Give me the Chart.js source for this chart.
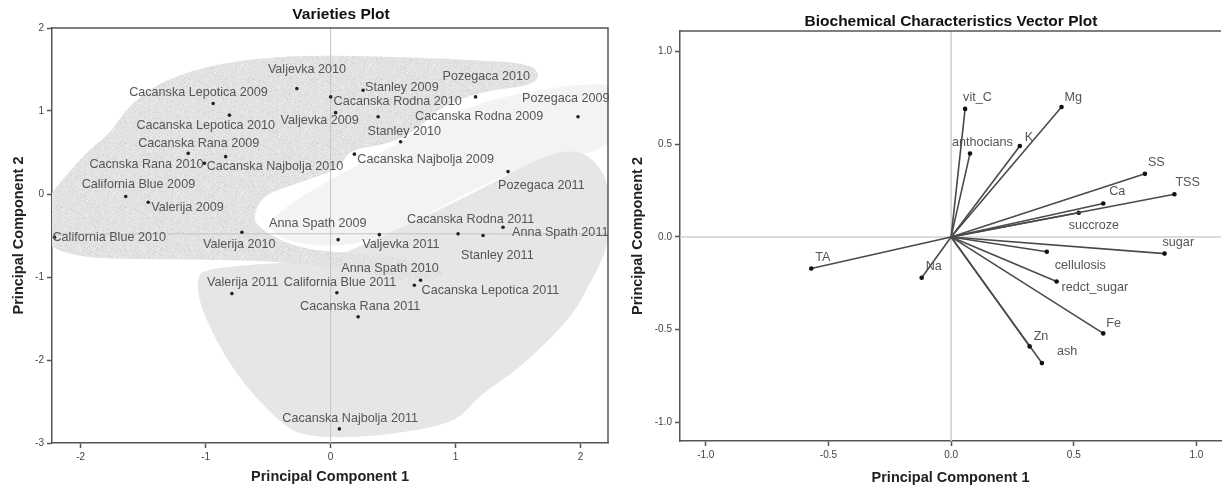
<!DOCTYPE html>
<html>
<head>
<meta charset="utf-8">
<script src="https://cdn.jsdelivr.net/npm/chart.js@4.4.0/dist/chart.umd.min.js"></script>
<style>
  body { margin: 0; background: #fff; width: 1225px; height: 491px; overflow: hidden; position: relative; }
  #left { position: absolute; left: 0; top: 0; width: 620px; height: 491px; }
  #right { position: absolute; left: 620px; top: 0; width: 605px; height: 491px; }
</style>
</head>
<body>
<div id="left"><canvas id="varieties" width="620" height="491"></canvas></div>
<div id="right"><canvas id="vectors" width="605" height="491"></canvas></div>
<script>
// ---- varieties (scores) ----
var varietyNames = [
  'Valjevka 2010', 'Cacanska Lepotica 2009', 'Cacanska Lepotica 2010', 'Cacanska Rana 2009',
  'Cacnska Rana 2010', 'Cacanska Najbolja 2010', 'California Blue 2009', 'Valerija 2009',
  'California Blue 2010', 'Valerija 2010', 'Anna Spath 2009', 'Stanley 2009',
  'Cacanska Rodna 2010', 'Valjevka 2009', 'Cacanska Rodna 2009', 'Stanley 2010',
  'Pozegaca 2010', 'Pozegaca 2009', 'Cacanska Najbolja 2009', 'Pozegaca 2011',
  'Cacanska Rodna 2011', 'Anna Spath 2011', 'Valjevka 2011', 'Stanley 2011',
  'Anna Spath 2010', 'California Blue 2011', 'Cacanska Lepotica 2011', 'Valerija 2011',
  'Cacanska Rana 2011', 'Cacanska Najbolja 2011'
];
var pc1 = [-0.27, -0.94, -0.81, -1.14, -1.01, -0.84, -1.64, -1.46, -2.21, -0.71, 0.06, 0.26,
  0.00, 0.04, 0.38, 0.56, 1.16, 1.98, 0.19, 1.42, 1.02, 1.38, 0.39, 1.22, 0.67, 0.05, 0.72,
  -0.79, 0.22, 0.07];
var pc2 = [1.27, 1.09, 0.95, 0.49, 0.37, 0.45, -0.03, -0.10, -0.52, -0.46, -0.55, 1.25,
  1.17, 0.98, 0.93, 0.63, 1.17, 0.93, 0.48, 0.27, -0.48, -0.40, -0.49, -0.50, -1.10, -1.19,
  -1.04, -1.20, -1.48, -2.83];
// label placement relative to each point (pixels)
var varietyLabelOffsets = [[-29, -19], [-84, -11], [-93, 10], [-50, -10], [-115, 1], [-19, 10],
  [-44, -12], [3, 5], [-2, 0], [-39, 12], [-69, -16], [2, -3], [3, 5], [-55, 8], [37, 0],
  [-33, -10], [-33, -20], [-56, -18], [3, 5], [-10, 14], [-51, -14], [9, 5], [-17, 10],
  [-22, 20], [-73, -17], [-53, -10], [1, 10], [-25, -11], [-58, -10], [-57, -10]];

// group outlines (PC1, PC2)
var hullPale = [[-0.53, -0.40], [-0.37, -0.16], [-0.01, 0.17], [0.39, 0.48], [0.79, 0.84],
  [1.19, 1.10], [1.67, 1.26], [2.07, 1.33], [2.3, 1.31], [2.3, 0.54], [1.67, 0.40], [1.2, 0.1],
  [0.39, -0.55], [0.0, -0.64], [-0.33, -0.58]];
var hullGray = [[1.95, 0.54], [2.11, 0.42], [2.24, 0.09], [2.23, -0.63], [2.07, -1.09], [1.93, -1.48],
  [1.53, -2.08], [1.18, -2.44], [1.05, -2.68], [0.86, -2.80], [0.33, -2.93], [-0.17, -2.93],
  [-0.38, -2.80], [-0.78, -2.15], [-1.05, -1.36], [-1.07, -0.99], [-0.99, -0.91], [-0.73, -0.86],
  [0.0, -0.79], [0.39, -0.52], [0.79, -0.25], [1.27, 0.11], [1.67, 0.44]];
var hullSpeckled = [[-2.3, -0.77], [-2.3, -0.13], [-2.15, 0.17], [-1.93, 0.54], [-1.77, 0.72],
  [-1.61, 1.08], [-1.33, 1.38], [-0.89, 1.58], [-0.33, 1.67], [0.39, 1.66], [1.11, 1.62],
  [1.59, 1.57], [1.68, 1.44], [1.61, 1.31], [1.19, 1.23], [0.87, 1.04], [0.71, 0.80],
  [0.47, 0.60], [0.15, 0.54], [0.07, 0.30], [-0.25, 0.14], [-0.53, -0.01], [-0.61, -0.21],
  [-0.60, -0.40], [-0.25, -0.67], [0.30, -0.72], [0.71, -0.81], [0.91, -0.91], [0.87, -1.05],
  [0.55, -1.05], [0.07, -0.89], [-0.41, -0.81], [-1.05, -0.79]];

// ---- biochemical characteristics (loadings) ----
var variableNames = ['vit_C', 'anthocians', 'K', 'Mg', 'SS', 'TSS', 'Ca', 'succroze', 'sugar',
  'cellulosis', 'redct_sugar', 'Fe', 'Zn', 'ash', 'Na', 'TA'];
var load1 = [0.057, 0.077, 0.28, 0.45, 0.79, 0.91, 0.62, 0.52, 0.87, 0.39, 0.43, 0.62, 0.32, 0.37, -0.12, -0.57];
var load2 = [0.69, 0.45, 0.49, 0.70, 0.34, 0.23, 0.18, 0.13, -0.09, -0.08, -0.24, -0.52, -0.59, -0.68, -0.22, -0.17];
var variableLabelOffsets = [[-2, -11], [-18, -11], [5, -9], [3, -10], [3, -11], [1, -12], [6, -12],
  [-10, 13], [-2, -11], [8, 14], [5, 6], [3, -10], [4, -10], [15, -12], [4, -11], [4, -11]];

var font = 'Arial, "Liberation Sans", sans-serif';

function speckle(ctx) {
  var c = document.createElement('canvas');
  c.width = 64; c.height = 64;
  var g = c.getContext('2d');
  g.fillStyle = '#e2e2e2';
  g.fillRect(0, 0, 64, 64);
  for (var i = 0; i < 64 * 64; i++) {
    var h = Math.sin(i * 12.9898 + 78.233) * 43758.5453;
    h = h - Math.floor(h);
    if (h < 0.10) { g.fillStyle = '#d4d4d4'; g.fillRect(i % 64, Math.floor(i / 64), 1, 1); }
    else if (h > 0.90) { g.fillStyle = '#ececec'; g.fillRect(i % 64, Math.floor(i / 64), 1, 1); }
  }
  return ctx.createPattern(c, 'repeat');
}

function drawBlob(chart, pts, fill) {
  var xs = chart.scales.x, ys = chart.scales.y, ctx = chart.ctx;
  var p = pts.map(function(d) { return [xs.getPixelForValue(d[0]), ys.getPixelForValue(d[1])]; });
  var n = p.length;
  function mid(a, b) { return [(a[0] + b[0]) / 2, (a[1] + b[1]) / 2]; }
  var m0 = mid(p[n - 1], p[0]);
  ctx.beginPath();
  ctx.moveTo(m0[0], m0[1]);
  for (var i = 0; i < n; i++) {
    var m = mid(p[i], p[(i + 1) % n]);
    ctx.quadraticCurveTo(p[i][0], p[i][1], m[0], m[1]);
  }
  ctx.closePath();
  ctx.fillStyle = fill;
  ctx.fill();
}

function fixedTicks(values) {
  return function(scale) { scale.ticks = values.map(function(v) { return { value: v }; }); };
}

function axis(min, max, tickValues, size, isX, titleText, titlePad, fmt) {
  return {
    min: min, max: max,
    afterBuildTicks: fixedTicks(tickValues),
    afterFit: function(s) { if (isX) s.height = size; else s.width = size; },
    grid: { drawOnChartArea: false, tickLength: 5, tickColor: '#555', tickWidth: 1.5 },
    border: { color: '#555', width: 1.5 },
    ticks: { font: { family: font, size: 10 }, color: '#444', padding: 3, maxRotation: 0,
      callback: fmt },
    title: { display: true, text: titleText, color: '#222',
      font: { family: font, size: 14.5, weight: 'bold' }, padding: titlePad }
  };
}

var refLines = {
  id: 'refLines',
  beforeDatasetsDraw: function(chart, args, opts) {
    var ctx = chart.ctx, a = chart.chartArea;
    var xs = chart.scales.x, ys = chart.scales.y;
    ctx.save();
    ctx.beginPath();
    ctx.rect(a.left, a.top, a.right - a.left, a.bottom - a.top);
    ctx.clip();
    (opts.blobs || []).forEach(function(b) { drawBlob(chart, b[0], b[1] === 'speckle' ? speckle(ctx) : b[1]); });
    ctx.strokeStyle = opts.color;
    ctx.lineWidth = opts.width;
    var x0 = xs.getPixelForValue(0), y0 = ys.getPixelForValue(opts.hLine);
    ctx.beginPath();
    ctx.moveTo(x0, a.top); ctx.lineTo(x0, a.bottom);
    ctx.moveTo(a.left, y0); ctx.lineTo(a.right, y0);
    ctx.stroke();
    ctx.restore();
  }
};

var textLayer = {
  id: 'textLayer',
  afterDatasetsDraw: function(chart, args, opts) {
    var ctx = chart.ctx, a = chart.chartArea;
    ctx.save();
    ctx.strokeStyle = '#555';
    ctx.lineWidth = 1.5;
    ctx.beginPath();
    ctx.moveTo(a.left, a.top); ctx.lineTo(a.right, a.top);
    if (opts.rightBorder) ctx.lineTo(a.right, a.bottom);
    ctx.stroke();
    ctx.font = '12.6px ' + font;
    ctx.fillStyle = '#555';
    ctx.textBaseline = 'middle';
    ctx.textAlign = 'left';
    opts.labels(chart).forEach(function(l) { ctx.fillText(l.text, l.x, l.y); });
    ctx.font = 'bold 15.5px ' + font;
    ctx.fillStyle = '#111';
    ctx.textAlign = 'center';
    ctx.fillText(opts.title, opts.titleX, opts.titleY);
    ctx.restore();
  }
};

new Chart(document.getElementById('varieties'), {
  type: 'scatter',
  data: {
    datasets: [{
      data: pc1.map(function(x, i) { return { x: x, y: pc2[i] }; }),
      pointRadius: 1.8, pointBackgroundColor: '#222', pointBorderWidth: 0
    }]
  },
  options: {
    responsive: false, animation: false,
    layout: { padding: { top: 28, right: 12, left: 0, bottom: 0 } },
    plugins: {
      legend: { display: false }, tooltip: { enabled: false },
      refLines: { color: '#c4c4c4', width: 1, hLine: -0.48,
        blobs: [[hullPale, '#f3f3f3'], [hullGray, '#e6e6e6'], [hullSpeckled, 'speckle']] },
      textLayer: {
        rightBorder: true, title: 'Varieties Plot', titleX: 341, titleY: 15,
        labels: function(chart) {
          var meta = chart.getDatasetMeta(0);
          return varietyNames.map(function(n, i) {
            return { text: n, x: meta.data[i].x + varietyLabelOffsets[i][0], y: meta.data[i].y + varietyLabelOffsets[i][1] };
          });
        }
      }
    },
    scales: {
      x: axis(-2.23, 2.22, [-2, -1, 0, 1, 2], 48, true, 'Principal Component 1', { top: 0, bottom: 5 },
        function(v) { return v; }),
      y: axis(-3, 2, [-3, -2, -1, 0, 1, 2], 52, false, 'Principal Component 2', { top: 10, bottom: 0 },
        function(v) { return v; })
    }
  },
  plugins: [refLines, textLayer]
});

new Chart(document.getElementById('vectors'), {
  type: 'scatter',
  data: {
    datasets: variableNames.map(function(n, i) {
      return {
        label: n,
        data: [{ x: 0, y: 0 }, { x: load1[i], y: load2[i] }],
        showLine: true, borderColor: '#4a4a4a', borderWidth: 1.6,
        pointRadius: [0, 2.3], pointBackgroundColor: '#111', pointBorderWidth: 0
      };
    })
  },
  options: {
    responsive: false, animation: false,
    layout: { padding: { top: 31, right: 0, left: 0, bottom: 0 } },
    plugins: {
      legend: { display: false }, tooltip: { enabled: false },
      refLines: { color: '#cfcfcf', width: 1.5, hLine: 0, blobs: [] },
      textLayer: {
        rightBorder: false, title: 'Biochemical Characteristics Vector Plot', titleX: 331, titleY: 22,
        labels: function(chart) {
          return variableNames.map(function(n, i) {
            var pt = chart.getDatasetMeta(i).data[1];
            return { text: n, x: pt.x + variableLabelOffsets[i][0], y: pt.y + variableLabelOffsets[i][1] };
          });
        }
      }
    },
    scales: {
      x: axis(-1.105, 1.1, [-1, -0.5, 0, 0.5, 1], 50, true, 'Principal Component 1', { top: 0, bottom: 4 },
        function(v) { return v.toFixed(1); }),
      y: axis(-1.1, 1.11, [-1, -0.5, 0, 0.5, 1], 60, false, 'Principal Component 2', { top: 9, bottom: 0 },
        function(v) { return v.toFixed(1); })
    }
  },
  plugins: [refLines, textLayer]
});
</script>
</body>
</html>
